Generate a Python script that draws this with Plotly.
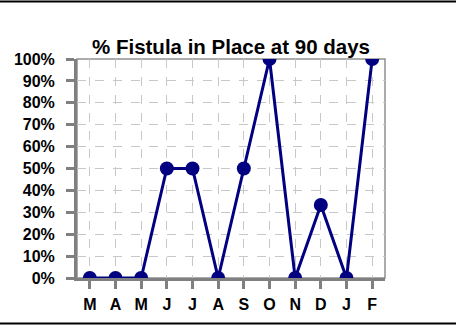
import plotly.graph_objects as go

months = ["M", "A", "M", "J", "J", "A", "S", "O", "N", "D", "J", "F"]
pct_in_place = [0, 0, 0, 0.5, 0.5, 0, 0.5, 1.0, 0, 0.333, 0, 1.0]
y_ticks = [i / 10 for i in range(11)]
y_tick_labels = [f"{i*10}%" for i in range(11)]
title_text = "% Fistula in Place at 90 days"

idx = list(range(len(months)))

W, H = 456, 328
L, R, T, B = 77, 71, 59, 50
pw, ph = W - L - R, H - T - B

def px_x(px):
    return (px - L) / pw

def px_y(py):
    return (H - B - py) / ph

fig = go.Figure()
fig.add_trace(go.Scatter(
    x=idx, y=pct_in_place, mode="lines+markers",
    line=dict(color="#000080", width=3),
    marker=dict(color="#000080", size=14),
    cliponaxis=True, showlegend=False,
))

font = "Liberation Sans, Arial, sans-serif"
fig.update_layout(
    width=W, height=H,
    margin=dict(l=L, r=R, t=T, b=B),
    paper_bgcolor="white", plot_bgcolor="white",
    title=dict(text="<b>" + title_text + "</b>", x=(L + pw / 2) / W, xanchor="center",
               y=1 - 47 / H, yanchor="middle",
               font=dict(family=font, size=20.5, color="black")),
    xaxis=dict(
        range=[-0.5, len(months) - 0.5], tickmode="array", tickvals=idx,
        ticktext=["<b>" + m + "</b>" for m in months],
        showgrid=True, gridcolor="#c8c8c8", gridwidth=1, griddash="dash",
        showline=True, linecolor="#808080", linewidth=3,
        ticks="outside", ticklen=8, tickwidth=3, tickcolor="#808080",
        tickfont=dict(family=font, size=16, color="black"),
        ticklabelstandoff=2,
        zeroline=False, fixedrange=True,
    ),
    yaxis=dict(
        range=[0, 1], tickmode="array", tickvals=y_ticks,
        ticktext=["<b>" + t + "</b>" for t in y_tick_labels],
        showgrid=True, gridcolor="#c8c8c8", gridwidth=1, griddash="dash",
        showline=True, linecolor="#808080", linewidth=3,
        ticks="outside", ticklen=8, tickwidth=3, tickcolor="#808080",
        tickfont=dict(family=font, size=16, color="black"),
        ticklabelstandoff=8,
        zeroline=False, fixedrange=True,
    ),
    shapes=[
        dict(type="rect", xref="paper", yref="paper", x0=0, x1=1, y0=0, y1=1,
             line=dict(color="#909090", width=1.5), layer="below"),
        dict(type="line", xref="paper", yref="paper", x0=px_x(0), x1=px_x(W),
             y0=px_y(1.5), y1=px_y(1.5), line=dict(color="black", width=2)),
        dict(type="line", xref="paper", yref="paper", x0=px_x(0), x1=px_x(W),
             y0=px_y(323.5), y1=px_y(323.5), line=dict(color="black", width=2)),
    ],
)

fig.write_html("out.html", config={"displayModeBar": False},
               post_script="document.body.style.margin='0';document.body.style.overflow='hidden';")
